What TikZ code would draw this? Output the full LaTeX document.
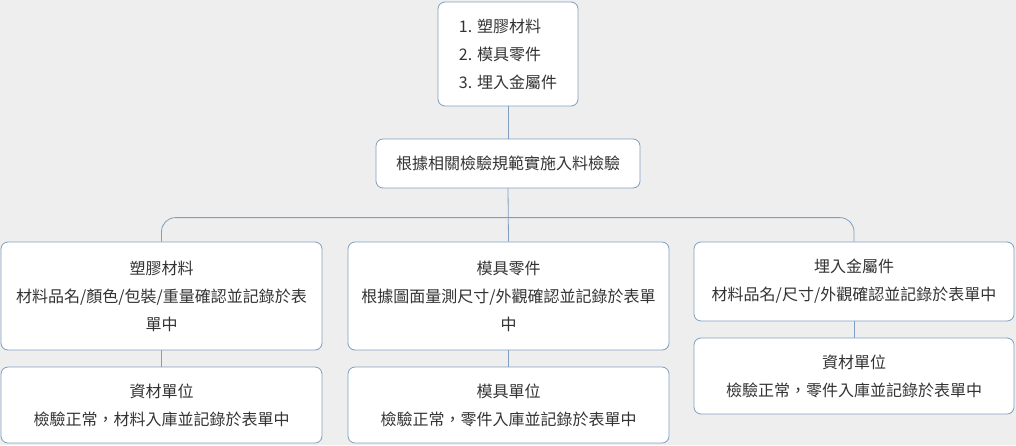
\documentclass[tikz,border=0pt]{standalone}
\usepackage{fontspec}
\setmainfont{Noto Sans CJK TC}
\begin{document}
\begin{tikzpicture}[x=1pt,y=-1pt,
  box/.style={draw=boxc,fill=white,rounded corners=7pt,line width=0.8pt,text=txt,align=center,font=\fontsize{16}{28}\selectfont,inner sep=0pt},
  conn/.style={draw=boxc,line width=0.8pt}]
\definecolor{boxc}{HTML}{7E9FBF}
\definecolor{txt}{HTML}{333333}
\definecolor{bg}{HTML}{EEEEEE}
\fill[bg] (0,0) rectangle (1016,445);
\useasboundingbox (0,0) rectangle (1016,445);
\node[box,minimum width=140,minimum height=104,align=left] (top) at (508,54) {1. 塑膠材料\\2. 模具零件\\3. 埋入金屬件};
\node[box,minimum width=264,minimum height=49] (mid) at (508,163.5) {根據相關檢驗規範實施入料檢驗};
\node[box,minimum width=321,minimum height=108] (A) at (161.5,296) {塑膠材料\\材料品名/顏色/包裝/重量確認並記錄於表\\單中};
\node[box,minimum width=321,minimum height=108] (B) at (508.5,296) {模具零件\\根據圖面量測尺寸/外觀確認並記錄於表單\\中};
\node[box,minimum width=320,minimum height=79] (C) at (854,281.5) {埋入金屬件\\材料品名/尺寸/外觀確認並記錄於表單中};
\node[box,minimum width=321,minimum height=76] (A2) at (161.5,405) {資材單位\\檢驗正常，材料入庫並記錄於表單中};
\node[box,minimum width=321,minimum height=76] (B2) at (508.5,405) {模具單位\\檢驗正常，零件入庫並記錄於表單中};
\node[box,minimum width=320,minimum height=76] (C2) at (854,376) {資材單位\\檢驗正常，零件入庫並記錄於表單中};
\draw[conn] (top.south) -- (mid.north);
\draw[conn,rounded corners=14pt] (A.north) -- ++(0,-24) -| (C.north);
\draw[conn] (mid.south) -- (B.north);
\draw[conn] (A.south) -- (A2.north);
\draw[conn] (B.south) -- (B2.north);
\draw[conn] (C.south) -- (C2.north);
\end{tikzpicture}
\end{document}
